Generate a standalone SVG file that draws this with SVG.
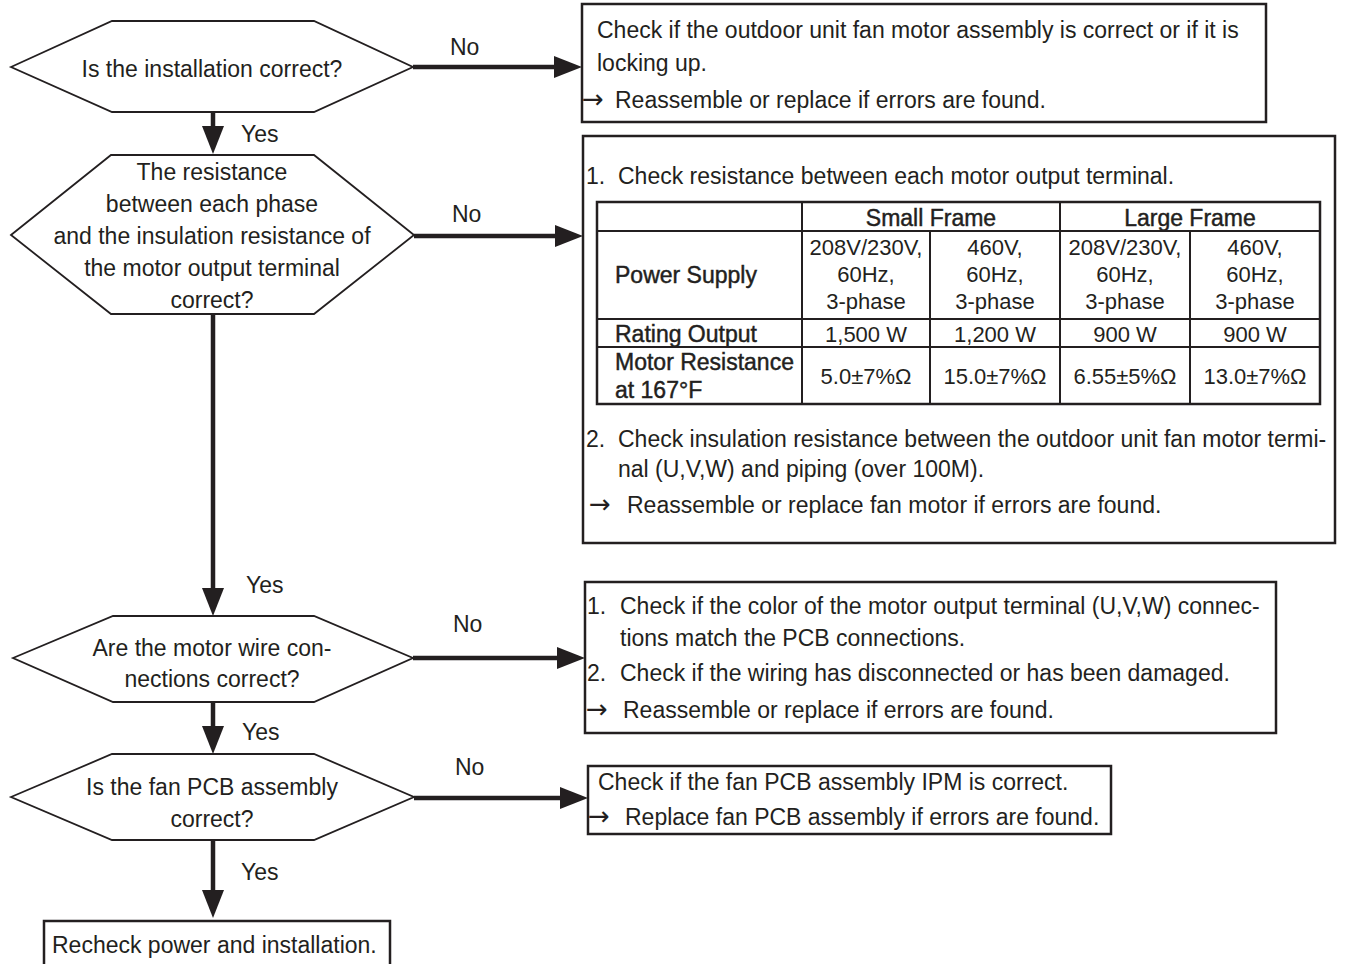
<svg xmlns="http://www.w3.org/2000/svg" width="1345" height="964" viewBox="0 0 1345 964">
<defs>
<style>
.t{font-family:"Liberation Sans",Arial,sans-serif;font-size:23px;fill:#231f20}
.c{text-anchor:middle}
.v{font-size:22px}
.ar{font-family:"DejaVu Sans",sans-serif;font-size:26px}
.hd{stroke:#231f20;stroke-width:0.45}
.box{fill:#fff;stroke:#231f20;stroke-width:2.5}
.hex{fill:#fff;stroke:#231f20;stroke-width:1.8}
.con{stroke:#231f20;stroke-width:4.5;fill:none}
.tl{stroke:#231f20;stroke-width:2;fill:none}
</style>
<marker id="ah" markerUnits="userSpaceOnUse" markerWidth="28" markerHeight="22" viewBox="0 0 28 22" refX="1" refY="11" orient="auto">
<path d="M0,0 L28,11 L0,22 z" fill="#231f20"/>
</marker>
</defs>
<rect width="1345" height="964" fill="#fff"/>

<g id="connectors">
<line class="con" x1="413" y1="67" x2="555" y2="67" marker-end="url(#ah)"/>
<line class="con" x1="414" y1="236" x2="556" y2="236" marker-end="url(#ah)"/>
<line class="con" x1="413" y1="658" x2="558" y2="658" marker-end="url(#ah)"/>
<line class="con" x1="414" y1="798" x2="561" y2="798" marker-end="url(#ah)"/>
<line class="con" x1="213" y1="112" x2="213" y2="127" marker-end="url(#ah)"/>
<line class="con" x1="213" y1="314" x2="213" y2="589" marker-end="url(#ah)"/>
<line class="con" x1="213" y1="702" x2="213" y2="727" marker-end="url(#ah)"/>
<line class="con" x1="213" y1="840" x2="213" y2="891" marker-end="url(#ah)"/>
<text class="t" x="450" y="55">No</text>
<text class="t" x="452" y="222">No</text>
<text class="t" x="453" y="632">No</text>
<text class="t" x="455" y="775">No</text>
<text class="t" x="241" y="142">Yes</text>
<text class="t" x="246" y="593">Yes</text>
<text class="t" x="242" y="740">Yes</text>
<text class="t" x="241" y="880">Yes</text>
</g>

<g id="q1">
<polygon class="hex" points="11,67 112,21 314,21 413,67 314,112 112,112"/>
<text class="t c" x="212" y="77">Is the installation correct?</text>
</g>

<g id="q2">
<polygon class="hex" points="11,235 111,155 314,155 414,235 314,314 111,314"/>
<text class="t c" x="212" y="180">The resistance</text>
<text class="t c" x="212" y="212">between each phase</text>
<text class="t c" x="212" y="244">and the insulation resistance of</text>
<text class="t c" x="212" y="276">the motor output terminal</text>
<text class="t c" x="212" y="308">correct?</text>
</g>

<g id="q3">
<polygon class="hex" points="13,658 113,616 314,616 413,658 314,702 113,702"/>
<text class="t c" x="212" y="656">Are the motor wire con-</text>
<text class="t c" x="212" y="687">nections correct?</text>
</g>

<g id="q4">
<polygon class="hex" points="11,797 112,754 314,754 414,797 314,840 112,840"/>
<text class="t c" x="212" y="795">Is the fan PCB assembly</text>
<text class="t c" x="212" y="827">correct?</text>
</g>

<g id="a1">
<rect class="box" x="582" y="4" width="684" height="118"/>
<text class="t" x="597" y="38">Check if the outdoor unit fan motor assembly is correct or if it is</text>
<text class="t" x="597" y="71">locking up.</text>
<text class="t" y="108"><tspan class="ar" x="582">→</tspan><tspan x="615">Reassemble or replace if errors are found.</tspan></text>
</g>

<g id="a2">
<rect class="box" x="583" y="136" width="752" height="407"/>
<text class="t" y="184"><tspan x="586">1.</tspan><tspan x="618">Check resistance between each motor output terminal.</tspan></text>
<g id="table">
<rect x="597" y="202" width="723" height="202" fill="none" stroke="#231f20" stroke-width="2.5"/>
<line class="tl" x1="597" y1="231" x2="1320" y2="231"/>
<line class="tl" x1="597" y1="319" x2="1320" y2="319"/>
<line class="tl" x1="597" y1="347" x2="1320" y2="347"/>
<line class="tl" x1="802" y1="202" x2="802" y2="404"/>
<line class="tl" x1="1060" y1="202" x2="1060" y2="404"/>
<line class="tl" x1="930" y1="231" x2="930" y2="404"/>
<line class="tl" x1="1190" y1="231" x2="1190" y2="404"/>
<text class="t c hd" x="931" y="226">Small Frame</text>
<text class="t c hd" x="1190" y="226">Large Frame</text>
<text class="t hd" x="615" y="283">Power Supply</text>
<text class="t hd" x="615" y="342">Rating Output</text>
<text class="t hd" x="615" y="370">Motor Resistance</text>
<text class="t hd" x="615" y="398">at 167°F</text>
<text class="t v c" x="866" y="255">208V/230V,</text>
<text class="t v c" x="866" y="282">60Hz,</text>
<text class="t v c" x="866" y="309">3-phase</text>
<text class="t v c" x="995" y="255">460V,</text>
<text class="t v c" x="995" y="282">60Hz,</text>
<text class="t v c" x="995" y="309">3-phase</text>
<text class="t v c" x="1125" y="255">208V/230V,</text>
<text class="t v c" x="1125" y="282">60Hz,</text>
<text class="t v c" x="1125" y="309">3-phase</text>
<text class="t v c" x="1255" y="255">460V,</text>
<text class="t v c" x="1255" y="282">60Hz,</text>
<text class="t v c" x="1255" y="309">3-phase</text>
<text class="t v c" x="866" y="342">1,500 W</text>
<text class="t v c" x="995" y="342">1,200 W</text>
<text class="t v c" x="1125" y="342">900 W</text>
<text class="t v c" x="1255" y="342">900 W</text>
<text class="t v c" x="866" y="384">5.0±7%Ω</text>
<text class="t v c" x="995" y="384">15.0±7%Ω</text>
<text class="t v c" x="1125" y="384">6.55±5%Ω</text>
<text class="t v c" x="1255" y="384">13.0±7%Ω</text>
</g>
<text class="t" y="447"><tspan x="586">2.</tspan><tspan x="618">Check insulation resistance between the outdoor unit fan motor termi-</tspan></text>
<text class="t" x="618" y="477">nal (U,V,W) and piping (over 100M).</text>
<text class="t" y="513"><tspan class="ar" x="589">→</tspan><tspan x="627">Reassemble or replace fan motor if errors are found.</tspan></text>
</g>

<g id="a3">
<rect class="box" x="585" y="582" width="691" height="151"/>
<text class="t" y="614"><tspan x="587">1.</tspan><tspan x="620">Check if the color of the motor output terminal (U,V,W) connec-</tspan></text>
<text class="t" x="620" y="646">tions match the PCB connections.</text>
<text class="t" y="681"><tspan x="587">2.</tspan><tspan x="620">Check if the wiring has disconnected or has been damaged.</tspan></text>
<text class="t" y="718"><tspan class="ar" x="586">→</tspan><tspan x="623">Reassemble or replace if errors are found.</tspan></text>
</g>

<g id="a4">
<rect class="box" x="588" y="766" width="523" height="68"/>
<text class="t" x="598" y="790">Check if the fan PCB assembly IPM is correct.</text>
<text class="t" y="825"><tspan class="ar" x="588">→</tspan><tspan x="625">Replace fan PCB assembly if errors are found.</tspan></text>
</g>

<g id="end">
<rect class="box" x="44" y="921" width="346" height="50"/>
<text class="t" x="52" y="953">Recheck power and installation.</text>
</g>
</svg>
